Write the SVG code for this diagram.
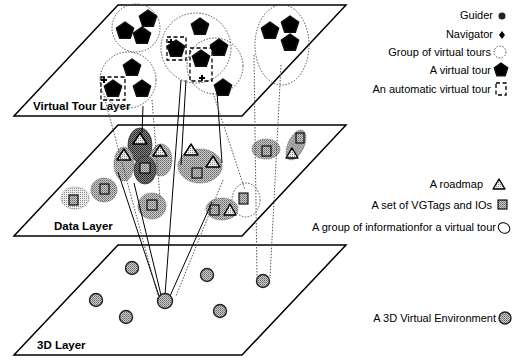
<svg xmlns="http://www.w3.org/2000/svg" width="517" height="360" viewBox="0 0 517 360">
<defs>
<pattern id="dots" width="2" height="2" patternUnits="userSpaceOnUse"><rect width="2" height="2" fill="#ccc"/><rect width="1" height="1" fill="#666"/><rect x="1" y="1" width="1" height="1" fill="#888"/></pattern>
<pattern id="light" width="2" height="2" patternUnits="userSpaceOnUse"><rect width="2" height="2" fill="#eee"/><rect width="1" height="1" fill="#888"/></pattern>
<pattern id="dense" width="2" height="2" patternUnits="userSpaceOnUse"><rect width="2" height="2" fill="#888"/><rect width="1" height="1" fill="#222"/><rect x="1" y="1" width="1" height="1" fill="#333"/></pattern>
<polygon id="pg" points="0,-9 8.6,-2.8 5.3,7.3 -5.3,7.3 -8.6,-2.8"/>
</defs>
<style>
.plane{fill:none;stroke:#000;stroke-width:1.5}
.lbl{font-family:"Liberation Sans",Arial,sans-serif;font-size:11.5px;font-weight:bold;fill:#000}
.leg{font-family:"Liberation Sans",Arial,sans-serif;font-size:11px;fill:#000;text-anchor:end}
.grp{fill:none;stroke:#555;stroke-width:1;stroke-dasharray:1.5 1.5}
.pent{fill:#000;stroke:#111;stroke-width:1.5;stroke-linejoin:round}
.auto{fill:none;stroke:#000;stroke-width:1.3;stroke-dasharray:4 2.5}
.sph{fill:url(#dots);stroke:#222;stroke-width:1.4}
.sq{fill:url(#dots);stroke:#000;stroke-width:1.1}
.tri{fill:url(#light);stroke:#000;stroke-width:1.4;stroke-linejoin:round}
.blob{fill:url(#light);stroke:#888;stroke-width:0.8;stroke-dasharray:1.5 1}
.blobm{fill:url(#dots);stroke:#666;stroke-width:0.8;stroke-dasharray:1.5 1}
.blobd{fill:url(#dense);stroke:#333;stroke-width:0.8}
.sol{fill:none;stroke:#000;stroke-width:1}
.dot{fill:none;stroke:#555;stroke-width:1;stroke-dasharray:1.5 1.5}
</style>

<g id="layer-3d">
<polygon class="plane" points="118,245 346,245 242,355 14,355"/>
<text class="lbl" x="37" y="349">3D Layer</text>
</g>
<g id="layer-data">
<polygon class="plane" points="118,125 346,125 242,236 14,236"/>
<text class="lbl" x="54" y="230">Data Layer</text>
</g>
<g id="layer-vt">
<polygon class="plane" points="118,5 346,5 242,116 14,116"/>
<text class="lbl" x="33" y="110">Virtual Tour Layer</text>
</g>

<g id="data-cluster-1">
<ellipse class="blobd" cx="140" cy="145" rx="12" ry="17"/>
<ellipse class="blobm" cx="124" cy="164" rx="10" ry="17"/>
<ellipse class="blobm" cx="161" cy="160" rx="11" ry="16"/>
<ellipse class="blobd" cx="145" cy="170" rx="11" ry="14"/>
<polygon class="tri" points="124,149 131,160 117,160"/>
<polygon class="tri" points="140,133 147,144 133,144"/>
<polygon class="tri" points="160,145 167,156 153,156"/>
<rect class="sq" x="140" y="163" width="10" height="10"/>
</g>
<g id="data-cluster-2">
<ellipse class="blobm" cx="200" cy="166" rx="22" ry="17"/>
<polygon class="tri" points="191,144 198,155 184,155"/>
<polygon class="tri" points="213,156 220,167 206,167"/>
<rect class="sq" x="192" y="168" width="10" height="10"/>
</g>
<g id="data-group-f">
<ellipse class="blob" cx="75" cy="198" rx="14" ry="11"/>
<rect class="sq" x="69" y="195" width="9" height="10"/>
</g>
<g id="data-group-g">
<ellipse class="blobm" cx="104" cy="190" rx="13" ry="12"/>
<rect class="sq" x="100" y="184" width="9" height="10"/>
</g>
<g id="data-group-h">
<ellipse class="blobm" cx="152" cy="206" rx="14" ry="13"/>
<rect class="sq" x="147" y="200" width="10" height="10"/>
</g>
<g id="data-group-i">
<ellipse class="blobm" cx="266" cy="149" rx="14" ry="10"/>
<rect class="sq" x="262" y="146" width="9" height="10"/>
</g>
<g id="data-group-j">
<ellipse class="blobm" cx="296" cy="145" rx="8" ry="16" transform="rotate(25 296 145)"/>
<rect class="sq" x="296" y="133" width="8" height="10"/>
<polygon class="tri" points="292,148 298,158 286,158"/>
</g>
<g id="data-group-k">
<ellipse class="grp" cx="246" cy="200" rx="14" ry="17"/>
<rect class="sq" x="239" y="193" width="9" height="11"/>
</g>
<g id="data-group-l">
<ellipse class="blobm" cx="222" cy="209" rx="16" ry="11"/>
<rect class="sq" x="210" y="205" width="9" height="10"/>
<polygon class="tri" points="230,204 236,215 224,215"/>
</g>

<g id="connectors">
<line class="dot" x1="104" y1="96" x2="158" y2="296"/>
<line class="dot" x1="152" y1="100" x2="160" y2="198"/>
<line class="sol" x1="143" y1="106" x2="142" y2="133"/>
<line class="sol" x1="181" y1="80" x2="165" y2="295"/>
<line class="sol" x1="186" y1="80" x2="181" y2="165"/>
<line class="sol" x1="217" y1="92" x2="222" y2="163"/>
<line class="sol" x1="118" y1="172" x2="159" y2="296"/>
<line class="sol" x1="134" y1="183" x2="161" y2="295"/>
<line class="sol" x1="212" y1="202" x2="170" y2="296"/>
<line class="dot" x1="223" y1="180" x2="176" y2="296"/>
<line class="dot" x1="213" y1="93" x2="245" y2="190"/>
<line class="dot" x1="254" y1="55" x2="257" y2="278"/>
<line class="dot" x1="281" y1="65" x2="270" y2="278"/>
</g>

<g id="vt-group-1">
<circle class="grp" cx="136" cy="28" r="24"/>
<use href="#pg" class="pent" x="125" y="31"/>
<use href="#pg" class="pent" x="148" y="19"/>
<use href="#pg" class="pent" x="142" y="36"/>
</g>
<g id="vt-group-2">
<circle class="grp" cx="128" cy="80" r="28"/>
<use href="#pg" class="pent" x="132" y="68"/>
<use href="#pg" class="pent" x="113" y="89"/>
<use href="#pg" class="pent" x="142" y="89"/>
<rect class="auto" x="101" y="77" width="24" height="23"/>
<path d="M101,80 h6 M104,77 v6" stroke="#000" stroke-width="2"/>
</g>
<g id="vt-group-3">
<circle class="grp" cx="196" cy="48" r="35"/>
<use href="#pg" class="pent" x="200" y="27"/>
<use href="#pg" class="pent" x="176" y="49"/>
<rect class="auto" x="167" y="37" width="19" height="23"/>
<path d="M168,42 h6 M171,39 v6" stroke="#000" stroke-width="2"/>
</g>
<g id="vt-group-4">
<circle class="grp" cx="215" cy="66" r="28"/>
<use href="#pg" class="pent" x="201" y="59"/>
<use href="#pg" class="pent" x="219" y="48"/>
<use href="#pg" class="pent" x="223" y="88"/>
<rect class="auto" x="190" y="48" width="22" height="33"/>
<path d="M199,78 h6 M202,75 v6" stroke="#000" stroke-width="2"/>
</g>
<g id="vt-group-5">
<ellipse class="grp" cx="282" cy="45" rx="27" ry="40"/>
<use href="#pg" class="pent" x="270" y="31"/>
<use href="#pg" class="pent" x="290" y="25"/>
<use href="#pg" class="pent" x="290" y="43"/>
</g>

<g id="env-1"><circle class="sph" cx="132" cy="268" r="6.5"/></g>
<g id="env-2"><circle class="sph" cx="207" cy="275" r="6.5"/></g>
<g id="env-3"><circle class="sph" cx="96" cy="300" r="6.5"/></g>
<g id="env-4"><circle class="sph" cx="165" cy="301" r="7.5"/></g>
<g id="env-5"><circle class="sph" cx="220" cy="311" r="6.5"/></g>
<g id="env-6"><circle class="sph" cx="126" cy="317" r="6.5"/></g>
<g id="env-7"><circle class="sph" cx="263" cy="281" r="6.5"/></g>

<g id="legend">
<text class="leg" x="493" y="19">Guider</text>
<circle cx="502" cy="16" r="3.5" fill="#222"/>
<text class="leg" x="493" y="38">Navigator</text>
<path d="M502,31 L505,35 L502,39 L499,35 Z" fill="#000"/>
<text class="leg" x="491" y="56">Group of virtual tours</text>
<circle cx="500" cy="52" r="6" class="grp"/>
<text class="leg" x="491" y="74">A virtual tour</text>
<polygon class="pent" transform="translate(501,70)" points="0,-7 6.7,-2.2 4.1,5.7 -4.1,5.7 -6.7,-2.2"/>
<text class="leg" x="491" y="93">An automatic virtual tour</text>
<rect class="auto" x="496" y="83" width="10" height="12"/>
<text class="leg" x="483" y="188">A roadmap</text>
<polygon class="tri" points="499,179 505,189 493,189"/>
<text class="leg" x="492" y="209">A set of VGTags and IOs</text>
<rect class="sq" x="498" y="200" width="9" height="9"/>
<text class="leg" x="496" y="231">A group of informationfor a virtual tour</text>
<ellipse cx="504" cy="228" rx="6" ry="5" fill="none" stroke="#000" stroke-width="1" transform="rotate(30 504 228)"/>
<text class="leg" x="496" y="322">A 3D Virtual Environment</text>
<circle class="sph" cx="505" cy="318" r="6"/>
</g>
</svg>
